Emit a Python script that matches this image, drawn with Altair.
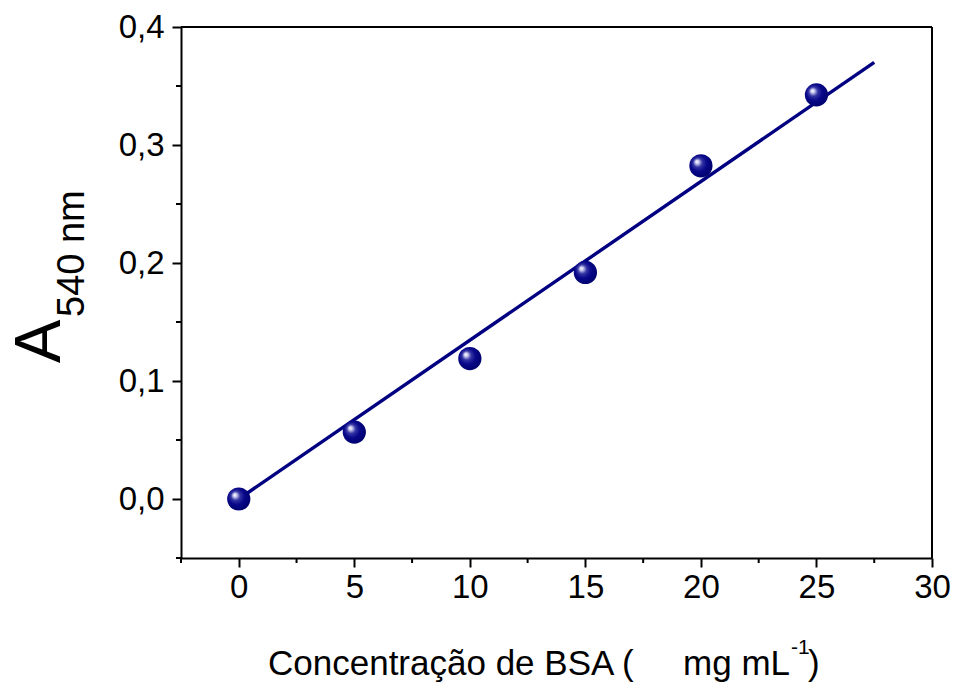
import altair as alt
import pandas as pd

# Calibration data: BSA concentration (mg/mL) vs absorbance at 540 nm
conc = [0, 5, 10, 15, 20, 25]
absorb = [0.0, 0.0567, 0.119, 0.192, 0.2824, 0.3425]

# Fitted calibration line (end points)
fit_x = [0, 27.5]
fit_y = [0.0, 0.370]

# Axis ticks
x_major = [0, 5, 10, 15, 20, 25, 30]
x_minor = [-2.5, 2.5, 7.5, 12.5, 17.5, 22.5, 27.5]
y_major = [0.0, 0.1, 0.2, 0.3, 0.4]
y_minor = [-0.05, 0.05, 0.15, 0.25, 0.35]

W, H = 751, 531
FONT = "Liberation Sans"
NAVY = "#000080"

x_scale = alt.Scale(domain=[-2.5, 30], nice=False, zero=False)
y_scale = alt.Scale(domain=[-0.05, 0.4], nice=False, zero=False)

pts = pd.DataFrame({"x": conc, "y": absorb})
fit = pd.DataFrame({"x": fit_x, "y": fit_y})

x_axis = alt.Axis(values=x_major, title=None, labelFont=FONT, labelFontSize=33,
                  labelColor="black", tickSize=9, tickWidth=2, tickColor="black",
                  domainColor="black", domainWidth=2, labelPadding=4, grid=False,
                  labelFlush=False, labelOverlap=False)
y_axis = alt.Axis(values=y_major, title=None, labelFont=FONT, labelFontSize=33,
                  labelColor="black", tickSize=9, tickWidth=2, tickColor="black",
                  domainColor="black", domainWidth=2, labelPadding=8, grid=False,
                  labelFlush=False, labelOverlap=False,
                  labelExpr="replace(format(datum.value, '.1f'), '.', ',')")

line = alt.Chart(fit).mark_line(color=NAVY, strokeWidth=3.4).encode(
    x=alt.X("x:Q", scale=x_scale, axis=x_axis),
    y=alt.Y("y:Q", scale=y_scale, axis=y_axis),
)

sphere = {
    "gradient": "radial",
    "x1": 0.32, "y1": 0.32, "r1": 0.0,
    "x2": 0.45, "y2": 0.45, "r2": 0.58,
    "stops": [
        {"offset": 0.0, "color": "#ffffff"},
        {"offset": 0.12, "color": "#d4d4f4"},
        {"offset": 0.34, "color": "#3434a4"},
        {"offset": 0.6, "color": "#08088a"},
        {"offset": 1.0, "color": "#00006c"},
    ],
}

points = alt.Chart(pts).mark_point(
    shape="circle", size=540, filled=True, fill=sphere, opacity=1, strokeWidth=0
).encode(x=alt.X("x:Q", scale=x_scale), y=alt.Y("y:Q", scale=y_scale))

xm = alt.Chart(pd.DataFrame({"x": x_minor})).mark_rule(color="black", strokeWidth=2).encode(
    x=alt.X("x:Q", scale=x_scale), y=alt.value(H), y2=alt.value(H + 5)
)
ym = alt.Chart(pd.DataFrame({"y": y_minor})).mark_rule(color="black", strokeWidth=2).encode(
    y=alt.Y("y:Q", scale=y_scale), x=alt.value(0), x2=alt.value(-5)
)

# Top and right edges of the frame
frame_top = alt.Chart(pd.DataFrame({"k": [0]})).mark_rule(color="black", strokeWidth=2).encode(
    x=alt.value(0), x2=alt.value(W), y=alt.value(0)
)
frame_right = alt.Chart(pd.DataFrame({"k": [0]})).mark_rule(color="black", strokeWidth=2).encode(
    x=alt.value(W), y=alt.value(0), y2=alt.value(H)
)

# Axis titles built from text pieces (subscript / superscript)
def label(text, x, y, size, angle=0, align="left"):
    return alt.Chart(pd.DataFrame({"t": [text]})).mark_text(
        font=FONT, fontSize=size, color="black", align=align,
        baseline="alphabetic", angle=angle
    ).encode(text="t:N", x=alt.value(x), y=alt.value(y))

titles = [
    label("Concentração de BSA (", 87, 648, 35),
    label("mg mL", 609, 648, 35, align="right"),
    label("-1", 610, 627, 21),
    label(")", 627, 648, 35),
    label("A", -121, 336, 65, angle=270),
    label("540 nm", -97, 290, 38, angle=270),
]

chart = alt.layer(line, xm, ym, frame_top, frame_right, points, *titles).properties(
    width=W, height=H,
    autosize=alt.AutoSizeParams(type="none"),
    padding={"left": 181, "top": 27, "right": 24, "bottom": 130},
).configure_view(stroke=None).configure(background="white")

chart.save("out.html", embed_options={"renderer": "svg", "actions": False})
